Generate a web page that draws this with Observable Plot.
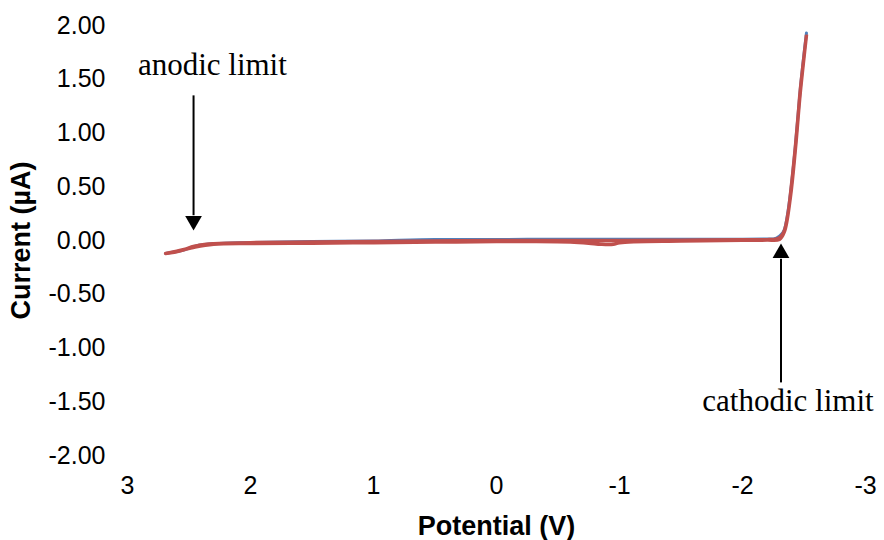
<!DOCTYPE html>
<html>
<head>
<meta charset="utf-8">
<script src="https://cdn.jsdelivr.net/npm/d3@7"></script>
<script src="https://cdn.jsdelivr.net/npm/@observablehq/plot@0.6"></script>
<style>
  html, body { margin: 0; padding: 0; background: #fff; }
  g[aria-label="x-axis label"] text, g[aria-label="y-axis label"] text { font-weight: bold; font-size: 27px; }
</style>
</head>
<body>
<div id="chart"></div>
<script>
// Red scan (forward and reverse)
const redPotFwd = [2.69, 2.62, 2.55, 2.48, 2.42, 2.36, 2.3, 2.2, 2.0, 1.5, 1.0, 0.5, 0.0, -0.5, -1.0, -1.5, -2.0, -2.2, -2.27, -2.31, -2.34, -2.37, -2.39, -2.41, -2.43, -2.45, -2.47, -2.495, -2.52];
const redCurFwd = [-0.12, -0.11, -0.09, -0.06, -0.045, -0.035, -0.03, -0.025, -0.02, -0.015, -0.01, -0.005, 0, 0, 0, 0.003, 0.006, 0.008, 0.012, 0.035, 0.09, 0.25, 0.43, 0.64, 0.87, 1.13, 1.40, 1.66, 1.91];
const redPotRev = [-2.52, -2.47, -2.43, -2.39, -2.34, -2.3, -2.2, -2.0, -1.5, -1.0, -0.95, -0.85, -0.75, -0.6, -0.3, 0, 0.5, 1.0, 1.5, 2.0, 2.3, 2.45, 2.6, 2.69];
const redCurRev = [1.91, 1.38, 0.85, 0.41, 0.08, 0.01, 0.004, 0.002, -0.005, -0.02, -0.035, -0.035, -0.025, -0.015, -0.01, -0.01, -0.015, -0.02, -0.025, -0.028, -0.035, -0.06, -0.1, -0.12];
// Blue scan
const bluePot = [2.69, 2.55, 2.42, 2.3, 2.0, 1.5, 1.0, 0.5, 0.0, -0.5, -1.0, -1.5, -2.0, -2.25, -2.3, -2.34, -2.39, -2.43, -2.47, -2.52];
const blueCur = [-0.12, -0.09, -0.045, -0.03, -0.02, -0.01, -0.005, 0.01, 0.01, 0.012, 0.012, 0.012, 0.012, 0.015, 0.04, 0.1, 0.44, 0.88, 1.41, 1.93];

const xTicks = [3, 2, 1, 0, -1, -2, -3];
const yTicks = [-2, -1.5, -1, -0.5, 0, 0.5, 1, 1.5, 2];

// Annotations
const noteLabels = ["anodic limit", "cathodic limit"];
const noteTextX = [2.31, -2.37];
const noteTextY = [1.63, -1.49];
const arrowX = [2.463, -2.313];
const arrowFromY = [1.35, -1.32];
const arrowToY = [0.235, -0.17];
const arrowTipY = [0.093, -0.028];

const red = redPotFwd.map((p, i) => ({p, c: redCurFwd[i]})).concat(redPotRev.map((p, i) => ({p, c: redCurRev[i]})));
const blue = bluePot.map((p, i) => ({p, c: blueCur[i]}));
const notes = noteLabels.map((t, i) => ({t, x: noteTextX[i], y: noteTextY[i], ax: arrowX[i], y1: arrowFromY[i], y2: arrowToY[i], tip: arrowTipY[i]}));

const chart = Plot.plot({
  width: 884,
  height: 540,
  marginLeft: 127,
  marginRight: 19,
  marginTop: 25,
  marginBottom: 85,
  style: {fontFamily: "'Liberation Sans', Arial, sans-serif", fontSize: "25px", background: "#fff", color: "#000"},
  x: {domain: [3, -3]},
  y: {domain: [-2, 2]},
  marks: [
    Plot.axisX({ticks: xTicks, tickSize: 0, tickPadding: 21, tickFormat: d => String(d), label: "Potential (V)", labelArrow: "none", labelAnchor: "center", labelOffset: 79}),
    Plot.axisY({ticks: yTicks, tickSize: 0, tickPadding: 22, tickFormat: d => d.toFixed(2), label: "Current (µA)", labelArrow: "none", labelAnchor: "center", labelOffset: 117}),
    Plot.line(blue, {x: "p", y: "c", stroke: "#4F81BD", strokeWidth: 3, curve: "monotone-x"}),
    Plot.line(red, {x: "p", y: "c", stroke: "#C0504D", strokeWidth: 3.5, curve: "catmull-rom"}),
    Plot.link(notes, {x1: "ax", x2: "ax", y1: "y1", y2: "y2", stroke: "#000", strokeWidth: 2}),
    Plot.dot(notes.slice(0, 1), {x: "ax", y: "tip", dy: -9.6, symbol: "triangle", r: 6.2, fill: "#000", rotate: 180}),
    Plot.dot(notes.slice(1), {x: "ax", y: "tip", dy: 9.6, symbol: "triangle", r: 6.2, fill: "#000"}),
    Plot.text(notes, {x: "x", y: "y", text: "t", fontFamily: "'Liberation Serif', 'Times New Roman', serif", fontSize: 31, fill: "#000"})
  ]
});
document.getElementById("chart").appendChild(chart);
</script>
</body>
</html>
